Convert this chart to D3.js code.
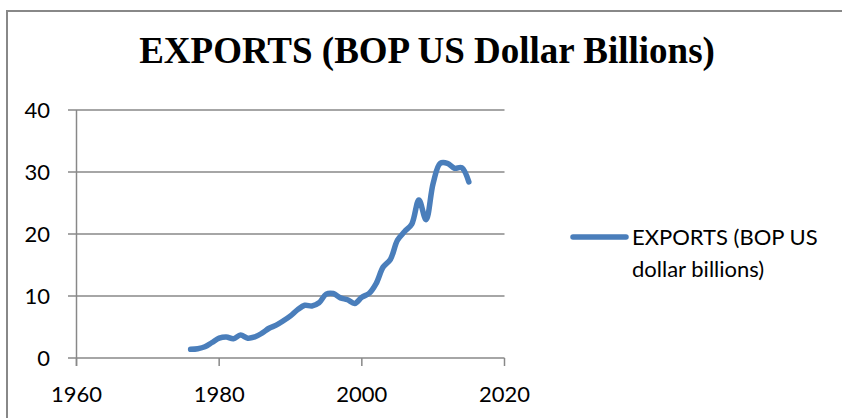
<!DOCTYPE html>
<html><head><meta charset="utf-8">
<script src="https://cdn.jsdelivr.net/npm/d3@7"></script>
<style>body{margin:0;background:#fff}svg{display:block}</style>
</head><body>
<svg id="c" width="842" height="418"></svg>
<script>
const years = [1976,1977,1978,1979,1980,1981,1982,1983,1984,1985,1986,1987,1988,1989,1990,1991,1992,1993,1994,1995,1996,1997,1998,1999,2000,2001,2002,2003,2004,2005,2006,2007,2008,2009,2010,2011,2012,2013,2014,2015];
const exportsVals = [1.4,1.5,1.8,2.5,3.2,3.4,3.1,3.7,3.2,3.4,4.0,4.8,5.3,6.0,6.8,7.8,8.5,8.4,8.9,10.3,10.4,9.7,9.4,8.8,9.8,10.4,12.0,14.7,15.9,19.0,20.4,21.6,25.5,22.3,28.2,31.4,31.4,30.6,30.7,28.4];
const xTicks = [1960,1980,2000,2020];
const yTicks = [0,10,20,30,40];
const title = "EXPORTS (BOP US Dollar Billions)";
const legendLines = ["EXPORTS (BOP US","dollar billions)"];

const svg = d3.select("#c");
const grey = "#888888";
const blue = "#4A7EBB";
const font = "Lato, 'Open Sans', sans-serif";

svg.append("rect").attr("x",7).attr("y",11).attr("width",900).attr("height",500)
  .attr("fill","none").attr("stroke",grey).attr("stroke-width",2);

const x = d3.scaleLinear().domain([1960,2020]).range([76.5,504.5]);
const y = d3.scaleLinear().domain([0,40]).range([358,110]);

svg.append("g").selectAll("line").data(yTicks).join("line")
  .attr("x1",68).attr("x2",x(2020)).attr("y1",d=>y(d)).attr("y2",d=>y(d))
  .attr("stroke",grey).attr("stroke-width",1.5);

svg.append("line").attr("x1",x(1960)).attr("x2",x(1960)).attr("y1",y(40)).attr("y2",y(0)+8)
  .attr("stroke",grey).attr("stroke-width",1.5);
svg.append("g").selectAll("line").data(xTicks).join("line")
  .attr("x1",d=>x(d)).attr("x2",d=>x(d)).attr("y1",y(0)).attr("y2",y(0)+8)
  .attr("stroke",grey).attr("stroke-width",1.5);

svg.append("g").selectAll("text").data(yTicks).join("text")
  .attr("x",50).attr("y",d=>y(d)).attr("dy","0.36em").attr("text-anchor","end")
  .attr("font-family",font).attr("font-size",22).attr("fill","#000").text(d=>d);
svg.append("g").selectAll("text").data(xTicks).join("text")
  .attr("x",d=>x(d)).attr("y",402).attr("text-anchor","middle")
  .attr("font-family",font).attr("font-size",22).attr("fill","#000").text(d=>d);

const line = d3.line().x((d,i)=>x(years[i])).y(d=>y(d)).curve(d3.curveCatmullRom.alpha(0.5));
svg.append("path").datum(exportsVals).attr("d",line).attr("fill","none")
  .attr("stroke",blue).attr("stroke-width",5.5).attr("stroke-linecap","round").attr("stroke-linejoin","round");

svg.append("text").attr("x",427).attr("y",63).attr("text-anchor","middle")
  .attr("font-family","'Liberation Serif','Times New Roman',serif").attr("font-weight","bold")
  .attr("font-size",37).attr("fill","#000").text(title);

svg.append("line").attr("x1",573).attr("x2",626).attr("y1",237).attr("y2",237)
  .attr("stroke",blue).attr("stroke-width",5.5).attr("stroke-linecap","round");
svg.append("g").selectAll("text").data(legendLines).join("text")
  .attr("x",632).attr("y",(d,i)=>245+i*32)
  .attr("font-family",font).attr("font-size",22).attr("fill","#000").text(d=>d);
</script>
</body></html>
